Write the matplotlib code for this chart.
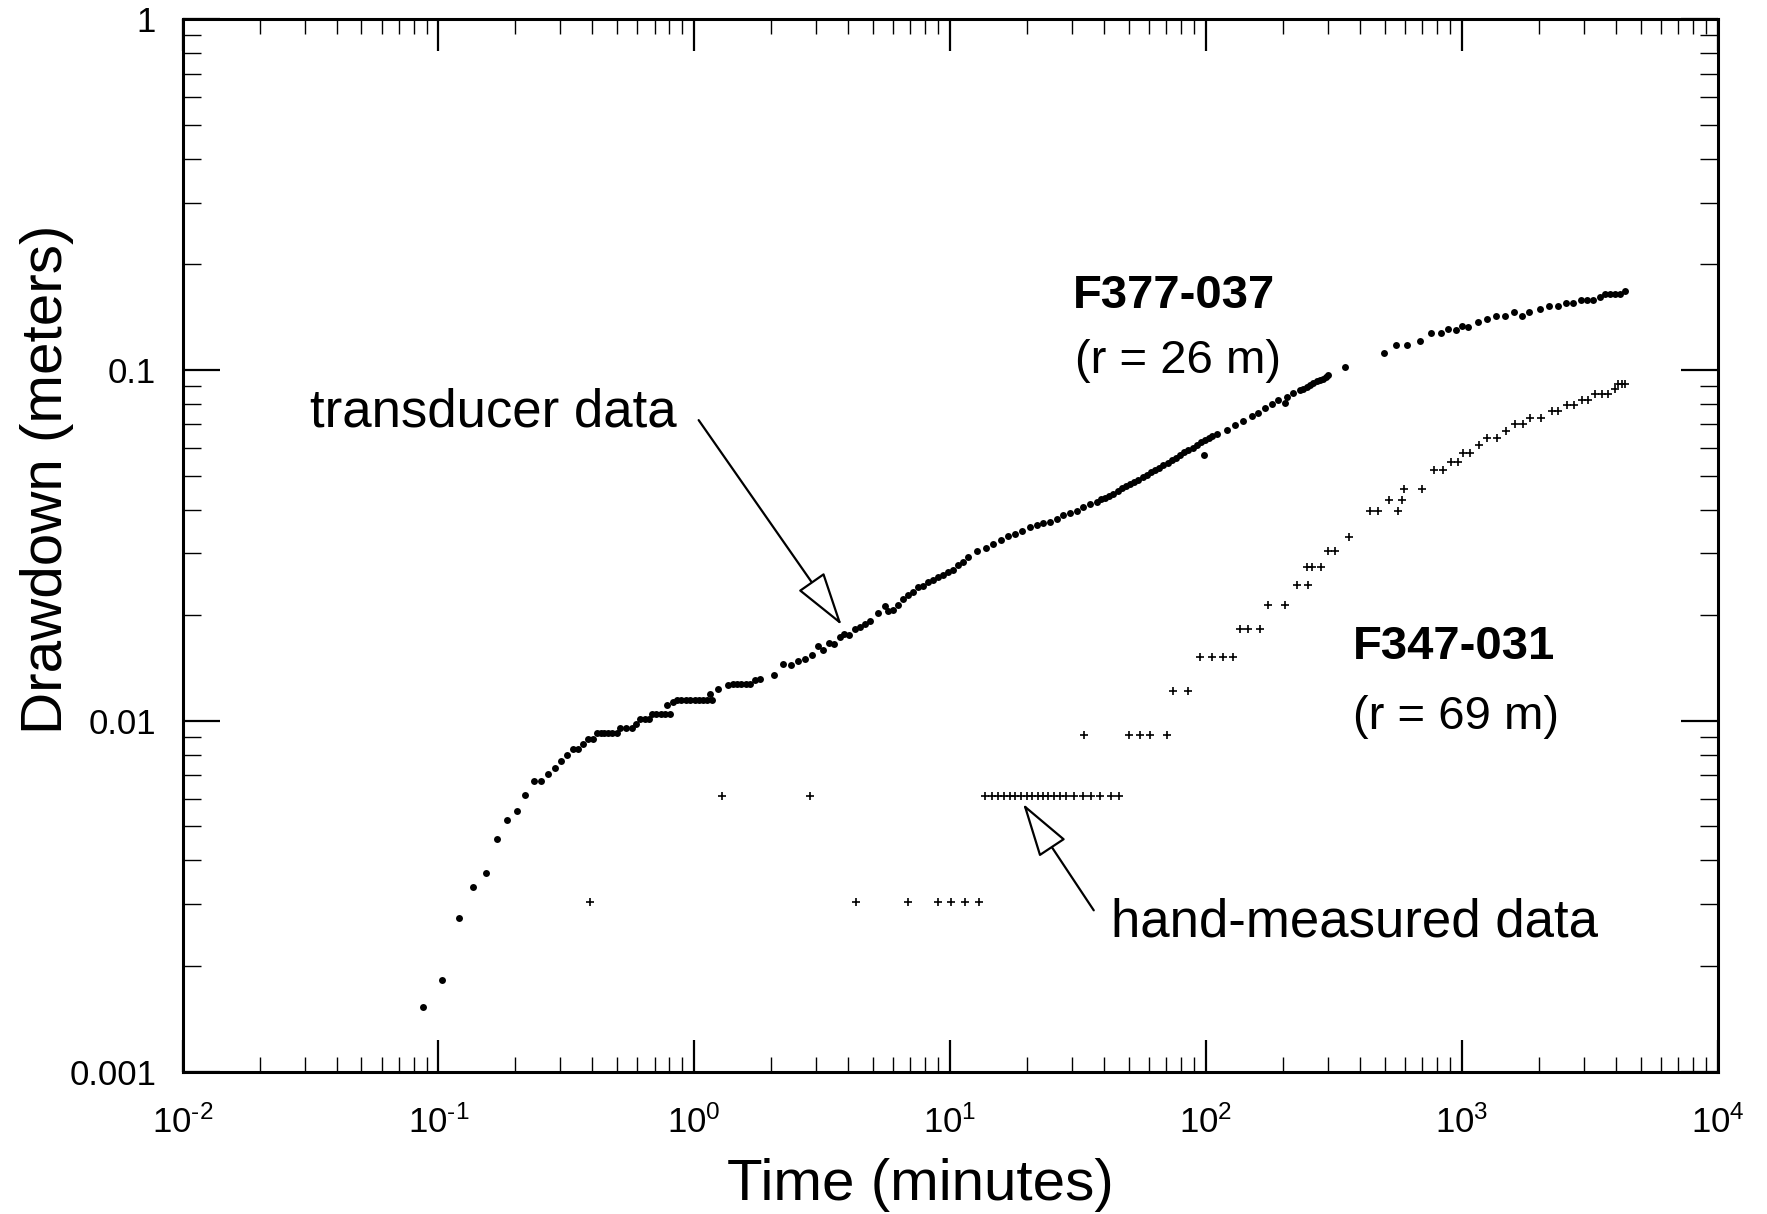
import numpy as np
import matplotlib
matplotlib.use("Agg")
import matplotlib.pyplot as plt
from matplotlib.ticker import FixedLocator, FixedFormatter, LogLocator, NullFormatter

plt.rcParams['font.family'] = ['Liberation Sans', 'DejaVu Sans']
plt.rcParams['mathtext.fontset'] = 'custom'
plt.rcParams['mathtext.rm'] = 'Liberation Sans'
plt.rcParams['mathtext.it'] = 'Liberation Sans:italic'
plt.rcParams['mathtext.bf'] = 'Liberation Sans:bold'
plt.rcParams['mathtext.default'] = 'regular'
plt.rcParams['axes.unicode_minus'] = False

# transducer data, well F377-037 (time in minutes, drawdown in meters)
transducer_time = [
    0.0873, 0.1035, 0.1201, 0.1369, 0.1535, 0.1695, 0.1860, 0.2029, 0.2186, 0.2364,
    0.2525, 0.2689, 0.2856, 0.3015, 0.3182, 0.3350, 0.3504, 0.3686, 0.3855, 0.4011,
    0.416, 0.431, 0.446, 0.462, 0.479, 0.498, 0.513, 0.541, 0.570, 0.591,
    0.614, 0.641, 0.668, 0.684, 0.712, 0.742, 0.772, 0.781, 0.804, 0.829,
    0.854, 0.888, 0.925, 0.963, 1.003, 1.044, 1.082, 1.119, 1.153, 1.171,
    1.242, 1.359, 1.418, 1.470, 1.524, 1.587, 1.653, 1.729, 1.808, 2.057,
    2.230, 2.390, 2.553, 2.712, 2.880, 3.056, 3.196, 3.365, 3.530, 3.715,
    3.862, 4.040, 4.253, 4.449, 4.653, 4.868, 5.245, 5.571, 5.739, 6.003,
    6.280, 6.569, 6.871, 7.187, 7.518, 7.864, 8.226, 8.604, 9.000, 9.415,
    9.848, 10.30, 10.78, 11.27, 11.79, 12.79, 13.79, 14.77, 15.83, 16.90,
    17.96, 19.07, 20.55, 21.83, 23.17, 24.60, 26.13, 27.73, 29.45, 31.27,
    33.20, 35.27, 37.46, 38.93, 40.36, 41.84, 43.49, 45.16, 46.90, 48.68,
    50.55, 52.40, 54.46, 56.56, 58.75, 61.06, 63.30, 65.62, 68.21, 70.84,
    73.57, 76.33, 79.27, 82.19, 85.43, 88.72, 92.14, 95.76, 98.4, 99.29,
    102.9, 105.5, 110.3, 120.7, 130.1, 140.2, 151.2, 160.5, 170.4, 180.9,
    192.0, 204.0, 207.2, 219.9, 233.6, 240.6, 248.0, 255.6, 263.3, 271.4,
    279.6, 287.2, 295.1, 301.3, 350.2, 498.7, 554.0, 610.1, 687.9, 759.5,
    828.5, 882.4, 948.1, 1001, 1062, 1156, 1253, 1363, 1478, 1603,
    1718, 1834, 2025, 2202, 2375, 2559, 2734, 2930, 3100, 3273,
    3475, 3636, 3803, 3979, 4161, 4354,
]
transducer_drawdown = [
    0.00153, 0.00183, 0.00275, 0.00336, 0.00368, 0.00460, 0.00521, 0.00552, 0.00613, 0.00674,
    0.00674, 0.00704, 0.00736, 0.00768, 0.00798, 0.00830, 0.00830, 0.00862, 0.00888, 0.00888,
    0.00922, 0.00922, 0.00922, 0.00922, 0.00922, 0.00922, 0.00954, 0.00954, 0.00954, 0.00982,
    0.01013, 0.01013, 0.01013, 0.01046, 0.01046, 0.01046, 0.01046, 0.01108, 0.01046, 0.01132,
    0.01145, 0.01145, 0.01145, 0.01145, 0.01145, 0.01145, 0.01145, 0.01145, 0.01196, 0.01145,
    0.01236, 0.01263, 0.01272, 0.01272, 0.01272, 0.01272, 0.01272, 0.01305, 0.01320, 0.01349,
    0.01450, 0.01441, 0.01479, 0.01505, 0.01538, 0.01635, 0.01597, 0.01672, 0.01661, 0.01734,
    0.01765, 0.01754, 0.01824, 0.01852, 0.01886, 0.01927, 0.02031, 0.02122, 0.02058, 0.02077,
    0.02136, 0.02218, 0.02281, 0.02331, 0.02409, 0.02420, 0.02489, 0.02517, 0.02572, 0.02601,
    0.02658, 0.02700, 0.02778, 0.02838, 0.02933, 0.03051, 0.03120, 0.03188, 0.03273, 0.03360,
    0.03404, 0.03479, 0.03571, 0.03611, 0.03666, 0.03690, 0.03774, 0.03856, 0.03915, 0.03967,
    0.04057, 0.04146, 0.04209, 0.04284, 0.04327, 0.04384, 0.04447, 0.04530, 0.04596, 0.04667,
    0.04729, 0.04807, 0.04870, 0.04951, 0.05017, 0.05117, 0.05185, 0.05270, 0.05357, 0.05445,
    0.05535, 0.05626, 0.05719, 0.05833, 0.05910, 0.06008, 0.06108, 0.06229, 0.05719, 0.06331,
    0.06415, 0.06479, 0.06565, 0.06740, 0.06965, 0.07164, 0.07389, 0.07551, 0.07773, 0.07996,
    0.08209, 0.08064, 0.08388, 0.08578, 0.08765, 0.08851, 0.08957, 0.09086, 0.09194, 0.09280,
    0.09359, 0.09451, 0.09563, 0.09672, 0.1021, 0.1115, 0.1178, 0.1178, 0.1209, 0.1272,
    0.1272, 0.1305, 0.1299, 0.1334, 0.1328, 0.1367, 0.1397, 0.1427, 0.1427, 0.1460,
    0.1427, 0.1460, 0.1492, 0.1524, 0.1521, 0.1548, 0.1548, 0.1582, 0.1582, 0.1582,
    0.1617, 0.1646, 0.1646, 0.1646, 0.1646, 0.1679,
]

# hand-measured data, well F347-031
hand_time = [
    0.393, 4.28, 6.86, 8.94, 10.12, 11.46, 12.97,
    1.28, 2.84, 13.7, 14.6, 15.4, 16.3, 17.2, 18.0, 19.0, 20.0, 21.0, 22.0,
    23.1, 24.2, 25.4, 26.8, 28.5, 30.5, 33.0, 35.5, 38.4, 42.6, 45.6,
    33.4, 50.2, 55.3, 60.5, 70.4,
    74.3, 85.4,
    94.9, 105.4, 116.4, 128.1,
    136.0, 146.6, 162.9,
    175.5, 203.0,
    226.7, 251.6,
    248.0, 259.4, 281.4,
    301.3, 320.0,
    363.9,
    438.5, 469.1, 561.5,
    521.6, 586.0,
    595.5, 698.2,
    782.4, 843.6,
    909.0, 965.6,
    1015, 1078,
    1173,
    1253, 1372,
    1492,
    1618, 1743,
    1851, 2044,
    2250, 2388,
    2590, 2751,
    2949, 3128,
    3323, 3529, 3746,
    3979,
    4099, 4226, 4354,
]
hand_drawdown = (
    [0.00305] * 7
    + [0.0061] * 23
    + [0.00914] * 5
    + [0.01219] * 2
    + [0.01524] * 4
    + [0.01829] * 3
    + [0.02134] * 2
    + [0.02438] * 2
    + [0.02743] * 3
    + [0.03048] * 2
    + [0.03353] * 1
    + [0.03962] * 3
    + [0.04267] * 2
    + [0.04572] * 2
    + [0.05182] * 2
    + [0.05486] * 2
    + [0.05791] * 2
    + [0.06096] * 1
    + [0.06401] * 2
    + [0.06706] * 1
    + [0.07010] * 2
    + [0.07315] * 2
    + [0.0762] * 2
    + [0.07925] * 2
    + [0.0823] * 2
    + [0.08534] * 3
    + [0.08839] * 1
    + [0.09144] * 3
)

x_ticks = [0.01, 0.1, 1, 10, 100, 1000, 10000]
x_tick_labels = [r'$10^{\text{-}2}$', r'$10^{\text{-}1}$', r'$10^{0}$', r'$10^{1}$',
                 r'$10^{2}$', r'$10^{3}$', r'$10^{4}$']
y_ticks = [0.001, 0.01, 0.1, 1]
y_tick_labels = ['0.001', '0.01', '0.1', '1']

fig = plt.figure(figsize=(17.67, 12.14), dpi=100)
ax = fig.add_axes([0.1033, 0.1172, 0.8687, 0.8670])

ax.plot(transducer_time, transducer_drawdown, 'o', color='black', ms=5.0, mew=0)
ax.plot(hand_time, hand_drawdown, '+', color='black', ms=6.0, mew=1.2)

ax.set_xscale('log')
ax.set_yscale('log')
ax.set_xlim(0.01, 10000)
ax.set_ylim(0.001, 1)

# ticks inside on all four sides
ax.xaxis.set_major_locator(FixedLocator(x_ticks))
ax.xaxis.set_major_formatter(FixedFormatter(x_tick_labels))
ax.xaxis.set_minor_locator(LogLocator(base=10, subs=np.arange(2, 10), numticks=20))
ax.xaxis.set_minor_formatter(NullFormatter())
ax.yaxis.set_major_locator(FixedLocator(y_ticks))
ax.yaxis.set_major_formatter(FixedFormatter(y_tick_labels))
ax.yaxis.set_minor_locator(LogLocator(base=10, subs=np.arange(2, 10), numticks=20))
ax.yaxis.set_minor_formatter(NullFormatter())

ax.tick_params(which='both', direction='in', top=True, right=True, labelsize=25)
ax.tick_params(axis='x', which='major', length=23, width=1.6, pad=24)
ax.tick_params(axis='x', which='minor', length=11, width=1.0)
ax.tick_params(axis='y', which='major', length=26.5, width=1.6, pad=19)
ax.tick_params(axis='y', which='minor', length=13, width=1.0)
for s in ax.spines.values():
    s.set_linewidth(2.2)

ax.set_xlabel('Time (minutes)', fontsize=42)
ax.set_ylabel('Drawdown (meters)', fontsize=42)
ax.xaxis.set_label_coords(0.481, -0.082)
ax.yaxis.set_label_coords(-0.071, 0.563)

# labels and arrows
arrow = dict(arrowstyle='-|>,head_length=34.7,head_width=10.2', mutation_scale=1,
             fc='white', ec='black', lw=1.6, shrinkA=0, shrinkB=0)
ax.annotate('', xy=(3.773, 0.01873), xytext=(1.041, 0.07198), arrowprops=arrow)
ax.annotate('', xy=(19.28, 0.00581), xytext=(36.46, 0.002884), arrowprops=arrow)

ax.text(0.0315, 0.0692, 'transducer data', fontsize=38, va='baseline')
ax.text(42.6, 0.00243, 'hand-measured data', fontsize=38, va='baseline')
ax.text(30.3, 0.1501, 'F377-037', fontsize=34, fontweight='bold', va='baseline')
ax.text(30.8, 0.0978, '(r = 26 m)', fontsize=34, va='baseline')
ax.text(377, 0.01496, 'F347-031', fontsize=34, fontweight='bold', va='baseline')
ax.text(377, 0.00951, '(r = 69 m)', fontsize=34, va='baseline')

fig.savefig('out.png', dpi=100)
